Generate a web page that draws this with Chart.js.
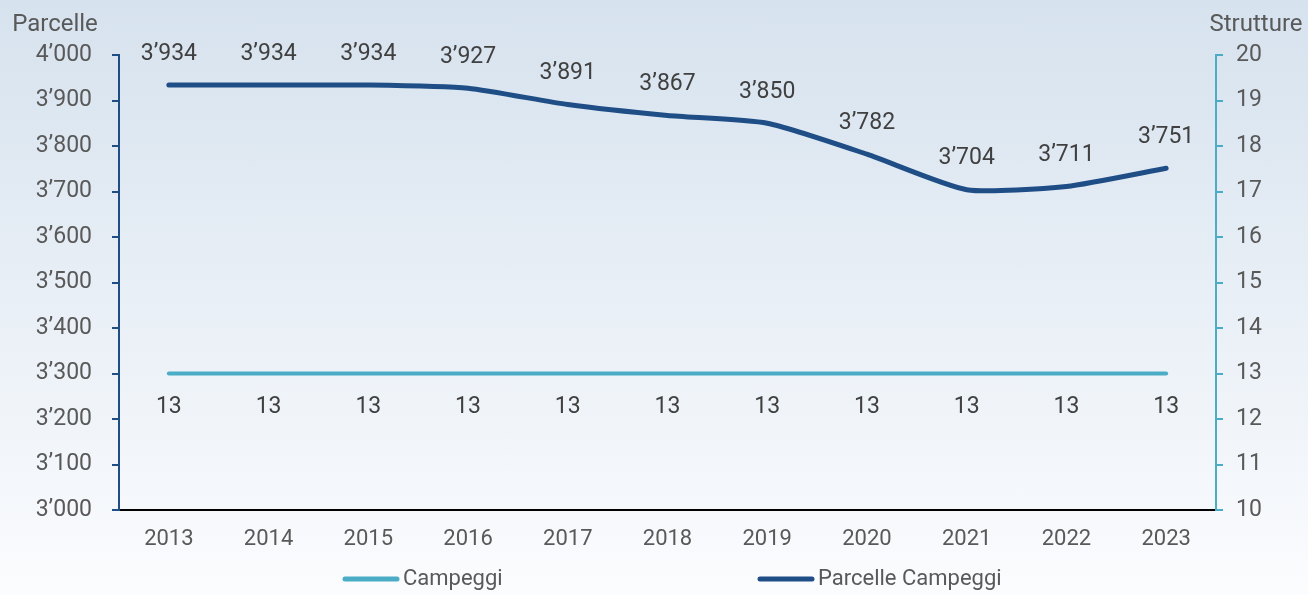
<!DOCTYPE html>
<html>
<head>
<meta charset="utf-8">
<script src="https://cdn.jsdelivr.net/npm/chart.js@4.4.1/dist/chart.umd.min.js"></script>
<style>
  html, body { margin: 0; padding: 0; }
  body { width: 1308px; height: 595px; background: linear-gradient(#d6e2ee, #fbfcfe); }
  #wrap { width: 1308px; height: 595px; position: relative; }
</style>
</head>
<body>
<div id="wrap"><canvas id="c"></canvas></div>
<script>
// dati
const anni = ["2013", "2014", "2015", "2016", "2017", "2018", "2019", "2020", "2021", "2022", "2023"];
const parcelle = [3934, 3934, 3934, 3927, 3891, 3867, 3850, 3782, 3704, 3711, 3751];
const campeggi = [13, 13, 13, 13, 13, 13, 13, 13, 13, 13, 13];

const BLU = "#1f4e87";
const TURCHESE = "#4bacc6";
const FONT = "Roboto";

const fmt = (v) => {
  const s = Math.round(v).toString();
  return s.length > 3 ? s.slice(0, -3) + "\u2019" + s.slice(-3) : s;
};

// etichette sui punti, titoli assi e legenda
const extraPlugin = {
  id: "extra",
  afterDatasetsDraw(chart) {
    const ctx = chart.ctx;
    ctx.save();
    ctx.font = `23px ${FONT}`;
    ctx.fillStyle = "#404040";
    ctx.textAlign = "center";
    ctx.textBaseline = "middle";
    chart.data.datasets.forEach((ds, i) => {
      const meta = chart.getDatasetMeta(i);
      meta.data.forEach((pt, j) => {
        const off = ds.yAxisID === "y" ? -31 : 34;
        ctx.fillText(fmt(ds.data[j]), pt.x, pt.y + off);
      });
    });

    ctx.fillStyle = "#595959";
    ctx.font = `24px ${FONT}`;
    ctx.fillText("Parcelle", 55, 25);
    ctx.fillText("Strutture", 1256, 25);

    // legenda
    ctx.font = `22px ${FONT}`;
    const items = [
      { label: "Campeggi", color: TURCHESE, x: 345 },
      { label: "Parcelle Campeggi", color: BLU, x: 760 },
    ];
    const ly = 579;
    items.forEach((it) => {
      ctx.strokeStyle = it.color;
      ctx.lineWidth = 5;
      ctx.lineCap = "round";
      ctx.beginPath();
      ctx.moveTo(it.x, ly);
      ctx.lineTo(it.x + 52, ly);
      ctx.stroke();
      ctx.textAlign = "left";
      ctx.fillStyle = "#595959";
      ctx.fillText(it.label, it.x + 58, ly);
    });
    ctx.restore();
  },
};

new Chart(document.getElementById("c"), {
  type: "line",
  data: {
    labels: anni,
    datasets: [
      {
        label: "Campeggi",
        data: campeggi,
        yAxisID: "y1",
        borderColor: TURCHESE,
        borderWidth: 4,
        pointRadius: 0,
        borderCapStyle: "round",
      },
      {
        label: "Parcelle Campeggi",
        data: parcelle,
        yAxisID: "y",
        borderColor: BLU,
        borderWidth: 5,
        pointRadius: 0,
        borderCapStyle: "round",
        tension: 0.2,
      },
    ],
  },
  options: {
    responsive: true,
    maintainAspectRatio: false,
    animation: false,
    layout: { padding: { top: 55, left: 0, right: 0, bottom: 0 } },
    plugins: {
      legend: { display: false },
      tooltip: { enabled: false },
    },
    scales: {
      x: {
        offset: true,
        grid: { display: false, drawTicks: false },
        border: { display: true, color: "#000000", width: 2 },
        ticks: { color: "#595959", font: { family: FONT, size: 22 }, padding: 16 },
        afterFit: (s) => { s.height = 85; },
      },
      y: {
        position: "left",
        min: 3000,
        max: 4000,
        grid: { drawOnChartArea: false, drawTicks: true, tickLength: 7, color: BLU, lineWidth: 2 },
        border: { color: BLU, width: 2 },
        ticks: {
          stepSize: 100,
          color: "#595959",
          font: { family: FONT, size: 23 },
          padding: 20,
          callback: (v) => fmt(v),
        },
        afterFit: (s) => { s.width = 119; },
      },
      y1: {
        position: "right",
        min: 10,
        max: 20,
        grid: { drawOnChartArea: false, drawTicks: true, tickLength: 7, color: TURCHESE, lineWidth: 2 },
        border: { color: TURCHESE, width: 2 },
        ticks: {
          stepSize: 1,
          color: "#595959",
          font: { family: FONT, size: 23 },
          padding: 13,
        },
        afterFit: (s) => { s.width = 92; },
      },
    },
  },
  plugins: [extraPlugin],
});
</script>
</body>
</html>
